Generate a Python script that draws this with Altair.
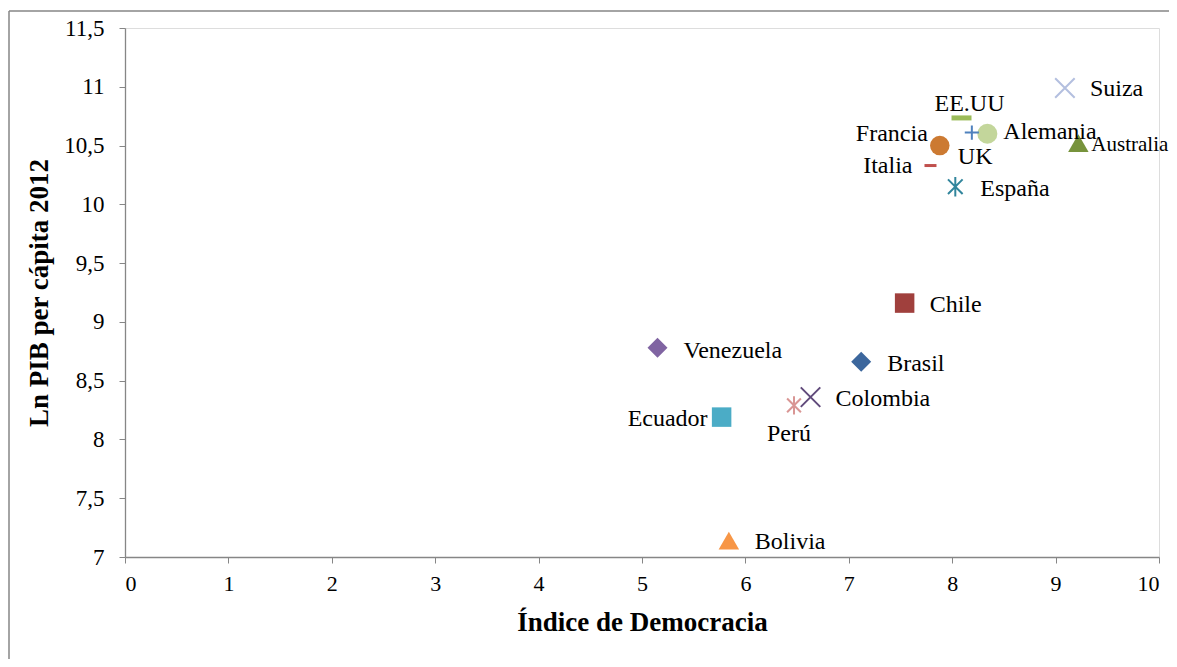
import altair as alt
import pandas as pd

countries = ["Suiza", "EE.UU", "Alemania", "UK", "Francia", "Italia", "España", "Australia",
             "Chile", "Venezuela", "Brasil", "Colombia", "Perú", "Ecuador", "Bolivia"]
democracia = [9.09, 8.09, 8.34, 8.19, 7.88, 7.79, 8.03, 9.22,
              7.54, 5.15, 7.12, 6.63, 6.47, 5.77, 5.84]
ln_pib = [10.99, 10.735, 10.60, 10.61, 10.50, 10.33, 10.15, 10.52,
          9.16, 8.78, 8.66, 8.36, 8.29, 8.19, 7.14]
y_ticks = [7, 7.5, 8, 8.5, 9, 9.5, 10, 10.5, 11, 11.5]
x_ticks = [0, 1, 2, 3, 4, 5, 6, 7, 8, 9, 10]

# marker styling per country: (shape, color, filled, size)
X_PATH = "M-1,-1L1,1M-1,1L1,-1"
AST_PATH = "M0,-1L0,1M-0.75,-0.75L0.75,0.75M-0.75,0.75L0.75,-0.75"
PLUS_PATH = "M-1,0L1,0M0,-1L0,1"
DASH_PATH = "M-1,-0.25L1,-0.25L1,0.25L-1,0.25Z"
style = {
    "Suiza": (X_PATH, "#b3bfdf", False, 380),
    "EE.UU": (DASH_PATH, "#9bbb59", True, 400),
    "Alemania": ("circle", "#c3d69b", True, 400),
    "UK": (PLUS_PATH, "#4f81bd", False, 200),
    "Francia": ("circle", "#cc7a32", True, 380),
    "Italia": (DASH_PATH, "#c0504d", True, 144),
    "España": (AST_PATH, "#31859c", False, 380),
    "Australia": ("triangle-up", "#77933c", True, 420),
    "Chile": ("square", "#a0403d", True, 380),
    "Venezuela": ("diamond", "#8064a2", True, 400),
    "Brasil": ("diamond", "#3c679d", True, 400),
    "Colombia": (X_PATH, "#604a7b", False, 380),
    "Perú": (AST_PATH, "#d99694", False, 340),
    "Ecuador": ("square", "#4bacc6", True, 380),
    "Bolivia": ("triangle-up", "#f79646", True, 420),
}
# label placement: (dx, dy, align, fontSize)
label_pos = {
    "Suiza": (25, 1, "left", 24),
    "EE.UU": (8, -14, "center", 24),
    "Alemania": (16, -2, "left", 24),
    "UK": (-14, 24, "left", 24),
    "Francia": (-12, -12, "right", 24),
    "Italia": (-18, 0, "right", 24),
    "España": (25, 2, "left", 24),
    "Australia": (13, 2, "left", 21),
    "Chile": (25, 2, "left", 24),
    "Venezuela": (26, 3, "left", 24),
    "Brasil": (26, 2, "left", 24),
    "Colombia": (25, 2, "left", 24),
    "Perú": (-5, 29, "center", 24),
    "Ecuador": (-14, 2, "right", 24),
    "Bolivia": (26, 1, "left", 24),
}

df = pd.DataFrame({"pais": countries, "dem": democracia, "pib": ln_pib})
df["shape"] = [style[c][0] for c in countries]
df["color"] = [style[c][1] for c in countries]
df["filled"] = [style[c][2] for c in countries]
df["size"] = [style[c][3] for c in countries]

FONT = "Liberation Serif"
AX = "#868686"
LBL = "replace(format(datum.value, '~g'), '.', ',')"

xenc = alt.X("dem:Q", scale=alt.Scale(domain=[0, 10], nice=False, zero=False),
             axis=alt.Axis(values=x_ticks, title="Índice de Democracia", grid=False,
                           labelExpr=LBL,
                           domainColor=AX, tickColor=AX, tickSize=6, labelPadding=10,
                           labelFont=FONT, labelFontSize=22, labelColor="black",
                           titleFont=FONT, titleFontSize=27, titleFontWeight="bold",
                           titleColor="black", titlePadding=15, domainWidth=1.3))
yenc = alt.Y("pib:Q", scale=alt.Scale(domain=[7, 11.5], nice=False, zero=False),
             axis=alt.Axis(values=y_ticks, title="Ln PIB per cápita 2012", grid=False,
                           labelExpr=LBL,
                           domainColor=AX, tickColor=AX, tickSize=6, labelPadding=15,
                           labelFont=FONT, labelFontSize=23, labelColor="black",
                           titleFont=FONT, titleFontSize=27, titleFontWeight="bold",
                           titleColor="black", titlePadding=10, domainWidth=1.3))

base = alt.Chart(df)

filled = base.transform_filter("datum.filled").mark_point(filled=True, opacity=1).encode(
    x=xenc, y=yenc,
    shape=alt.Shape("shape:N", scale=None),
    color=alt.Color("color:N", scale=None),
    size=alt.Size("size:Q", scale=None),
)
stroked = base.transform_filter("!datum.filled").mark_point(filled=False, opacity=1, strokeWidth=2).encode(
    x="dem:Q", y="pib:Q",
    shape=alt.Shape("shape:N", scale=None),
    color=alt.Color("color:N", scale=None),
    size=alt.Size("size:Q", scale=None),
)

text_layers = []
for c in countries:
    dx, dy, al, fs = label_pos[c]
    text_layers.append(
        base.transform_filter(alt.datum.pais == c).mark_text(
            dx=dx, dy=dy, align=al, baseline="middle", font=FONT, fontSize=fs, color="black"
        ).encode(x="dem:Q", y="pib:Q", text="pais:N")
    )

frame_data = alt.Data(values=[{"a": 1}])
frame_left = alt.Chart(frame_data).mark_rule(color=AX, strokeWidth=1.5).encode(
    x=alt.value(-116), y=alt.value(-17), y2=alt.value(640))
frame_top = alt.Chart(frame_data).mark_rule(color=AX, strokeWidth=1.5).encode(
    y=alt.value(-17), x=alt.value(-116), x2=alt.value(1044))

chart = alt.layer(frame_left, frame_top, filled, stroked, *text_layers).properties(
    width=1034, height=529,
    padding={"left": 117, "top": 20, "right": 10, "bottom": 102},
    autosize=alt.AutoSizeParams(type="none"),
).configure_view(stroke=None).configure(background="white")

chart.save("out.html", embed_options={"renderer": "svg", "actions": False})
